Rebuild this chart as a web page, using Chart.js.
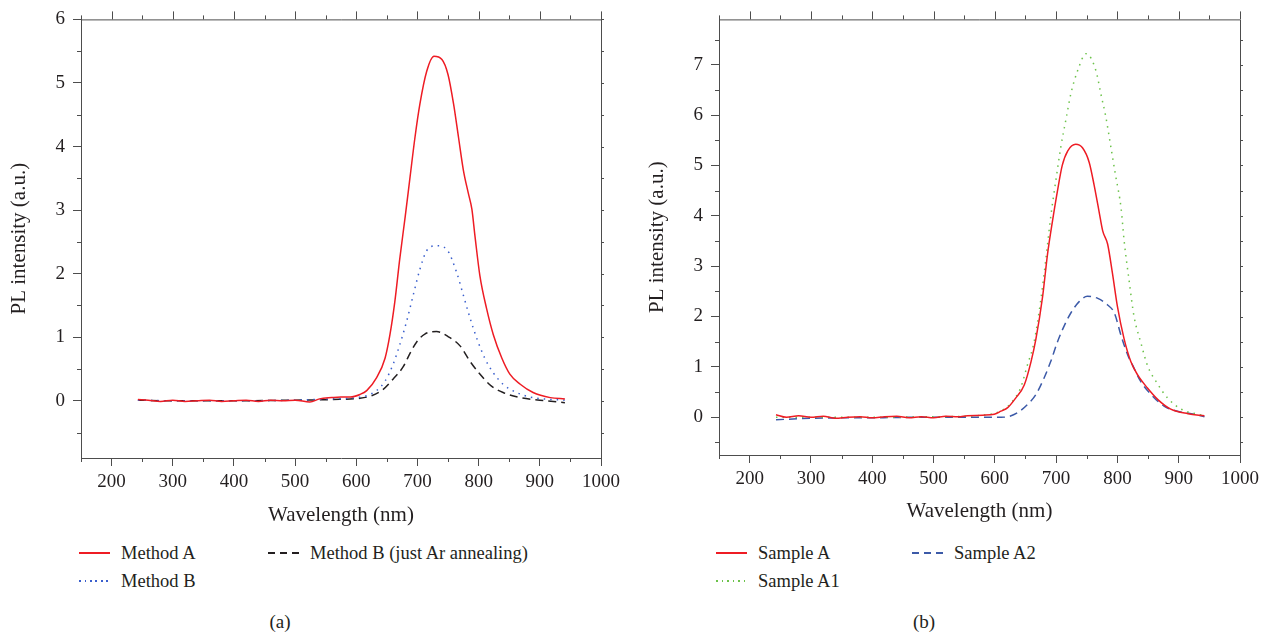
<!DOCTYPE html>
<html lang="en">
<head>
	<meta charset="UTF-8">
	<title>PL spectra</title>
	<script src="https://cdn.jsdelivr.net/npm/chart.js@4.4.1/dist/chart.umd.min.js"></script>
	<style>
		body { margin: 0; background: #fff; font-family: 'Liberation Serif', serif; color: #231f20; }
		#page { position: relative; width: 1268px; height: 637px; }
		canvas { position: absolute; top: 0; }
		.item { position: absolute; height: 20px; font-size: 18.5px; line-height: 20px; white-space: nowrap; }
		.item .swatch { position: absolute; left: 0; top: 9px; width: 31px; height: 1.5px; }
		.item .label { position: absolute; left: 42px; top: 0; }
		.solid { background: #ee1c24; }
		.dots-blue { background: repeating-linear-gradient(90deg, #3a5fcd 0 1.5px, transparent 1.5px 5.5px); }
		.dots-green { background: repeating-linear-gradient(90deg, #6cc24a 0 1.5px, transparent 1.5px 5.5px); }
		.dash-black { background: repeating-linear-gradient(90deg, #231f20 0 7px, transparent 7px 12px); }
		.dash-blue { background: repeating-linear-gradient(90deg, #3c5aa8 0 7px, transparent 7px 12px); }
		.caption { position: absolute; top: 610px; font-size: 19px; line-height: 24px; transform: translateX(-50%); }
	</style>
</head>
<body>
	<div id="page">
		<canvas id="grafico_a" width="640" height="530" style="left:0"></canvas>
		<canvas id="grafico_b" width="628" height="530" style="left:640px"></canvas>

		<div class="item" style="left:79px; top:543px"><span class="swatch solid"></span><span class="label">Method A</span></div>
		<div class="item" style="left:79px; top:571px"><span class="swatch dots-blue"></span><span class="label">Method B</span></div>
		<div class="item" style="left:268px; top:543px"><span class="swatch dash-black"></span><span class="label">Method B (just Ar annealing)</span></div>
		<div class="caption" style="left:280px">(a)</div>

		<div class="item" style="left:716px; top:543px"><span class="swatch solid"></span><span class="label">Sample A</span></div>
		<div class="item" style="left:716px; top:571px"><span class="swatch dots-green"></span><span class="label">Sample A1</span></div>
		<div class="item" style="left:912px; top:543px"><span class="swatch dash-blue"></span><span class="label">Sample A2</span></div>
		<div class="caption" style="left:924px">(b)</div>
	</div>

	<script>
		// --- panel (a) ---
		const methodAWave = [243, 260, 280, 300, 320, 340, 360, 380, 400, 420, 440, 460, 480, 500, 524, 540, 560, 575, 590, 606, 617, 633, 647, 655, 663, 671, 680, 688, 696, 704, 715, 727, 740, 750, 759, 767, 775, 783, 789, 794, 802, 813, 824, 838, 851, 868, 889, 917, 941];
		const methodA = [0.02, 0.01, -0.01, 0.01, -0.01, 0.00, 0.01, -0.01, 0.00, 0.01, -0.01, 0.01, 0.00, 0.01, -0.02, 0.03, 0.05, 0.06, 0.06, 0.10, 0.16, 0.36, 0.67, 1.04, 1.56, 2.23, 2.90, 3.53, 4.15, 4.67, 5.18, 5.42, 5.37, 5.13, 4.67, 4.15, 3.63, 3.27, 3.01, 2.59, 1.97, 1.45, 1.04, 0.67, 0.42, 0.26, 0.13, 0.05, 0.03];

		const methodBWave = [243, 300, 400, 500, 560, 600, 617, 633, 647, 660, 671, 682, 693, 704, 715, 731, 748, 764, 775, 786, 797, 810, 824, 840, 862, 889, 941];
		const methodB = [0.01, 0.00, 0.00, 0.01, 0.03, 0.05, 0.08, 0.16, 0.31, 0.57, 0.88, 1.24, 1.66, 2.07, 2.36, 2.44, 2.38, 2.02, 1.66, 1.30, 0.98, 0.67, 0.44, 0.26, 0.13, 0.05, 0.01];

		const arWave = [243, 300, 400, 500, 560, 606, 625, 644, 660, 677, 688, 699, 712, 731, 750, 770, 786, 802, 821, 840, 868, 900, 941];
		const arOnly = [0.01, 0.00, 0.00, 0.01, 0.02, 0.04, 0.08, 0.18, 0.34, 0.54, 0.75, 0.93, 1.05, 1.09, 1.01, 0.86, 0.62, 0.42, 0.23, 0.13, 0.05, 0.01, -0.03];

		// --- panel (b) ---
		const sampleAWave = [243, 260, 280, 300, 320, 340, 360, 380, 400, 420, 440, 460, 480, 500, 520, 540, 555, 580, 599, 610, 621, 634, 648, 659, 667, 678, 686, 694, 702, 710, 719, 732, 743, 754, 762, 770, 776, 784, 792, 800, 811, 822, 833, 849, 866, 887, 915, 942];
		const sampleA = [0.05, 0.00, 0.03, 0.00, 0.02, -0.02, 0.00, 0.01, -0.01, 0.01, 0.02, -0.01, 0.01, -0.01, 0.02, 0.01, 0.03, 0.04, 0.06, 0.12, 0.19, 0.38, 0.64, 1.10, 1.55, 2.40, 3.24, 3.89, 4.48, 5.00, 5.29, 5.42, 5.35, 5.06, 4.61, 4.09, 3.70, 3.44, 2.85, 2.20, 1.55, 1.10, 0.84, 0.58, 0.35, 0.16, 0.07, 0.03];

		const sampleA1Wave = [243, 300, 400, 500, 580, 615, 629, 642, 653, 664, 675, 683, 691, 700, 708, 716, 724, 735, 749, 765, 773, 781, 789, 797, 806, 811, 819, 827, 838, 849, 863, 882, 904, 931, 942];
		const sampleA1 = [0.00, 0.00, 0.00, 0.01, 0.04, 0.16, 0.32, 0.58, 1.03, 1.49, 2.33, 3.11, 3.96, 4.74, 5.39, 5.91, 6.42, 6.88, 7.22, 6.88, 6.42, 5.97, 5.39, 4.80, 4.15, 3.50, 2.72, 2.01, 1.49, 1.03, 0.71, 0.38, 0.16, 0.06, 0.03];

		const sampleA2Wave = [243, 300, 400, 500, 580, 610, 621, 637, 653, 667, 680, 691, 702, 713, 724, 738, 751, 768, 784, 795, 806, 817, 825, 838, 855, 876, 898, 925, 942];
		const sampleA2 = [-0.05, -0.02, -0.01, 0.00, 0.00, 0.00, 0.01, 0.09, 0.25, 0.45, 0.77, 1.10, 1.49, 1.81, 2.07, 2.30, 2.40, 2.36, 2.23, 2.07, 1.62, 1.23, 1.03, 0.71, 0.45, 0.22, 0.12, 0.06, 0.01];

		// axis ticks
		const xMajor = [200, 300, 400, 500, 600, 700, 800, 900, 1000];
		const xMinor = [150, 250, 350, 450, 550, 650, 750, 850, 950];
		const yMajorA = [0, 1, 2, 3, 4, 5, 6];
		const yMinorA = [-0.5, 0.5, 1.5, 2.5, 3.5, 4.5, 5.5];
		const yMajorB = [0, 1, 2, 3, 4, 5, 6, 7];
		const yMinorB = [-0.5, 0.5, 1.5, 2.5, 3.5, 4.5, 5.5, 6.5, 7.5];

		const axisColor = '#4d4d4d';
		Chart.defaults.font.family = "'Liberation Serif', serif";
		Chart.defaults.color = '#231f20';

		const pares = (xs, ys) => xs.map((x, i) => ({ x: x, y: ys[i] }));

		// frame on top/right plus minor ticks
		const moldura = {
			id: 'moldura',
			afterDraw(chart, args, opts) {
				const { ctx, chartArea: a, scales: { x, y } } = chart;
				ctx.save();
				ctx.strokeStyle = axisColor;
				ctx.lineWidth = 1;
				ctx.beginPath();
				ctx.moveTo(a.left, a.top + 0.5); ctx.lineTo(a.right + 0.5, a.top + 0.5);
				ctx.lineTo(a.right + 0.5, a.bottom);
				opts.xMajor.forEach(v => { const p = Math.round(x.getPixelForValue(v)) + 0.5; ctx.moveTo(p, a.top); ctx.lineTo(p, a.top - 8); });
				opts.xMinor.forEach(v => {
					const p = Math.round(x.getPixelForValue(v)) + 0.5;
					ctx.moveTo(p, a.top); ctx.lineTo(p, a.top - 4);
					ctx.moveTo(p, a.bottom); ctx.lineTo(p, a.bottom + 4);
				});
				opts.yMinor.forEach(v => { const p = Math.round(y.getPixelForValue(v)) + 0.5; ctx.moveTo(a.left, p); ctx.lineTo(a.left - 4, p); });
				opts.yMajor.concat(opts.yMinor).forEach(v => { const p = Math.round(y.getPixelForValue(v)) + 0.5; ctx.moveTo(a.right, p); ctx.lineTo(a.right + 3, p); });
				ctx.stroke();
				ctx.restore();
			}
		};

		const opcoes = (cfg) => ({
			responsive: false,
			animation: false,
			devicePixelRatio: 1,
			layout: { padding: { left: 0, top: cfg.top, right: cfg.right, bottom: 0 } },
			elements: { point: { radius: 0 }, line: { borderWidth: 1.5, cubicInterpolationMode: 'monotone' } },
			plugins: {
				legend: { display: false },
				tooltip: { enabled: false },
				moldura: { xMajor: xMajor, xMinor: xMinor, yMajor: cfg.yMajor, yMinor: cfg.yMinor }
			},
			scales: {
				x: {
					type: 'linear', min: 150, max: 1000,
					afterBuildTicks: s => { s.ticks = xMajor.map(v => ({ value: v })); },
					afterFit: s => { s.height = cfg.xHeight; },
					ticks: { autoSkip: false, maxRotation: 0, padding: 5, font: { size: 19 }, callback: v => String(v) },
					grid: { drawOnChartArea: false, color: axisColor, tickLength: 8 },
					border: { color: axisColor, width: 1 },
					title: { display: true, text: 'Wavelength (nm)', font: { size: 21 }, padding: { top: 0, bottom: cfg.xTitlePad } }
				},
				y: {
					min: cfg.yMin, max: cfg.yMax,
					afterBuildTicks: s => { s.ticks = cfg.yMajor.map(v => ({ value: v })); },
					afterFit: s => { s.width = cfg.yWidth; },
					ticks: { padding: 8, font: { size: 19 }, callback: v => String(v) },
					grid: { drawOnChartArea: false, color: axisColor, tickLength: 8 },
					border: { color: axisColor, width: 1 },
					title: { display: true, text: 'PL intensity (a.u.)', font: { size: 21 }, padding: { top: cfg.yTitlePad, bottom: 0 } }
				}
			}
		});

		new Chart(document.querySelector('#grafico_a'), {
			type: 'line',
			data: {
				datasets: [
					{ label: 'Method A', data: pares(methodAWave, methodA), borderColor: '#ee1c24' },
					{ label: 'Method B', data: pares(methodBWave, methodB), borderColor: '#3a5fcd', borderDash: [1.5, 5] },
					{ label: 'Method B (just Ar annealing)', data: pares(arWave, arOnly), borderColor: '#231f20', borderDash: [8, 5] }
				]
			},
			options: opcoes({ top: 14, right: 39, xHeight: 72, yWidth: 81, yMin: -0.9, yMax: 6, yMajor: yMajorA, yMinor: yMinorA, xTitlePad: 2, yTitlePad: 7 }),
			plugins: [moldura]
		});

		new Chart(document.querySelector('#grafico_b'), {
			type: 'line',
			data: {
				datasets: [
					{ label: 'Sample A', data: pares(sampleAWave, sampleA), borderColor: '#ee1c24' },
					{ label: 'Sample A1', data: pares(sampleA1Wave, sampleA1), borderColor: '#6cc24a', borderDash: [1.5, 5] },
					{ label: 'Sample A2', data: pares(sampleA2Wave, sampleA2), borderColor: '#3c5aa8', borderDash: [8, 5] }
				]
			},
			options: opcoes({ top: 11, right: 28, xHeight: 75, yWidth: 79, yMin: -0.75, yMax: 7.9, yMajor: yMajorB, yMinor: yMinorB, xTitlePad: 6, yTitlePad: 5 }),
			plugins: [moldura]
		});
	</script>
</body>
</html>
